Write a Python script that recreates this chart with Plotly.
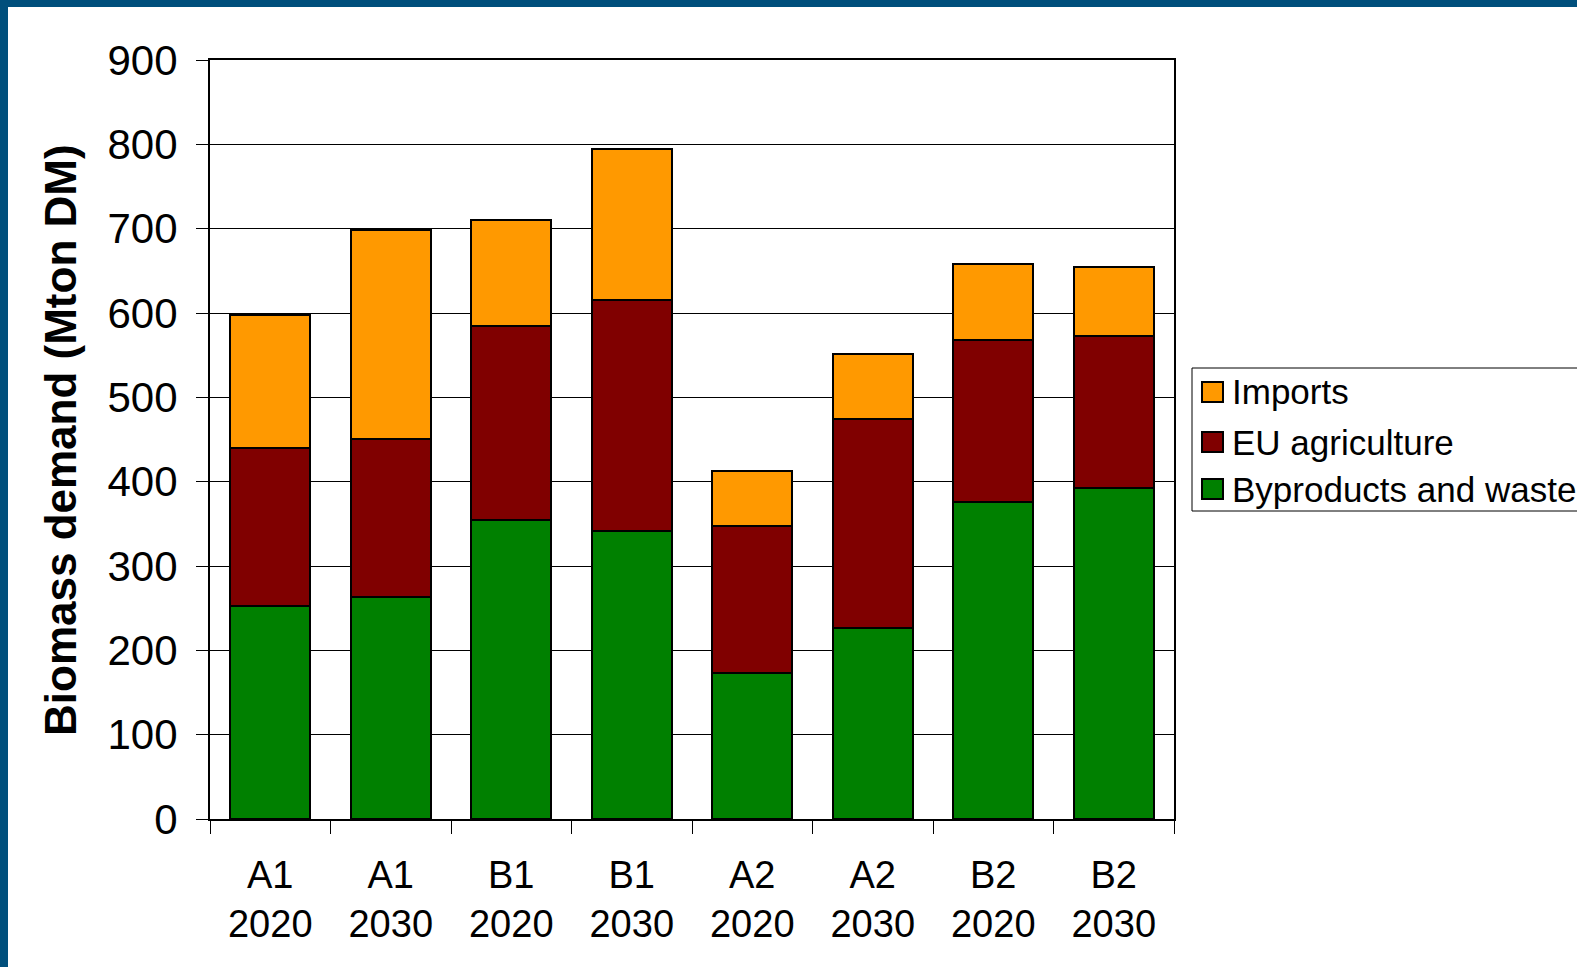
import plotly.graph_objects as go

categories = ["A1<br>2020", "A1<br>2030", "B1<br>2020", "B1<br>2030",
              "A2<br>2020", "A2<br>2030", "B2<br>2020", "B2<br>2030"]
byproducts = [253, 263, 354, 341, 173, 226, 376, 393]
eu_agri = [187, 188, 231, 274, 174, 248, 192, 180]
imports = [158, 248, 125, 179, 66, 77, 90, 82]
series_names = ["Byproducts and waste", "EU agriculture", "Imports"]
series_colors = ["#008000", "#800000", "#FF9900"]
y_ticks = [0, 100, 200, 300, 400, 500, 600, 700, 800, 900]

W, H = 1577, 967
L, R, T, B = 210, 403, 60, 148
pw, ph = W - L - R, H - T - B


def px(x):
    return (x - L) / pw


def py(y):
    return (H - B - y) / ph


fig = go.Figure()
for name, vals, col in zip(series_names, [byproducts, eu_agri, imports], series_colors):
    fig.add_trace(go.Bar(x=categories, y=vals, name=name, showlegend=False,
                         marker=dict(color=col, line=dict(color="black", width=2))))

font = "Liberation Sans, Arial, sans-serif"
fig.update_layout(
    width=W, height=H,
    margin=dict(l=L, r=R, t=T, b=B, autoexpand=False),
    barmode="stack", bargap=1/3,
    plot_bgcolor="white", paper_bgcolor="white",
    font=dict(family=font, color="black"),
    showlegend=False,
    xaxis=dict(showline=True, linecolor="black", linewidth=2, mirror=True,
               ticks="outside", tickson="boundaries", ticklen=13, tickcolor="black",
               tickfont=dict(size=38, family=font), ticklabelstandoff=21,
               showgrid=False),
    yaxis=dict(range=[0, 900], tickvals=y_ticks, showline=True, linecolor="black", linewidth=2,
               mirror=True, ticks="outside", ticklen=12, tickcolor="black",
               tickfont=dict(size=42, family=font), ticklabelstandoff=10,
               showgrid=True, gridcolor="black", gridwidth=1, zeroline=False),
)

fig.add_annotation(text="<b>Biomass demand (Mton DM)</b>", textangle=-90,
                   xref="paper", yref="paper", x=px(61), y=py(440),
                   xanchor="center", yanchor="middle", showarrow=False,
                   font=dict(size=44, family=font, color="black"))

# legend box (drawn manually to match the large square swatches)
fig.add_shape(type="rect", xref="paper", yref="paper",
              x0=px(1192), x1=px(1600), y0=py(511), y1=py(368),
              fillcolor="white", line=dict(color="black", width=1), layer="above")
leg_y = [392, 442, 489]
for (name, col), yc in zip(list(zip(series_names, series_colors))[::-1], leg_y):
    fig.add_shape(type="rect", xref="paper", yref="paper",
                  x0=px(1202), x1=px(1223), y0=py(yc + 10), y1=py(yc - 10),
                  fillcolor=col, line=dict(color="black", width=2), layer="above")
    fig.add_annotation(text=name, xref="paper", yref="paper", x=px(1230), y=py(yc),
                       xanchor="left", yanchor="middle", showarrow=False,
                       font=dict(size=35, family=font, color="black"))

# blue frame on top and left edges of the page
blue = "#004F7C"
fig.add_shape(type="rect", xref="paper", yref="paper",
              x0=px(0), x1=px(W), y0=py(7), y1=py(0),
              fillcolor=blue, line=dict(width=0), layer="above")
fig.add_shape(type="rect", xref="paper", yref="paper",
              x0=px(0), x1=px(8), y0=py(H), y1=py(0),
              fillcolor=blue, line=dict(width=0), layer="above")

fig.write_html("out.html")
